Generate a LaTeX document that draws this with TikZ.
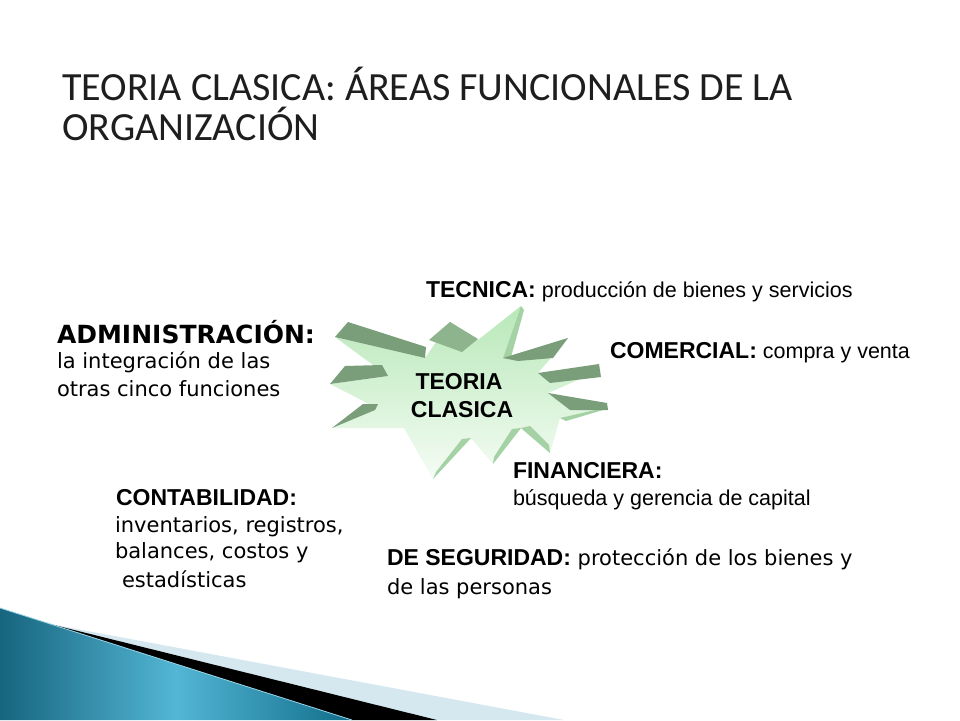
\documentclass[tikz,border=0pt]{standalone}
\usepackage{fontspec}
\setmainfont{Liberation Sans}
\newfontfamily\titlefont{Carlito}
\newfontfamily\verdfont{DejaVu Sans}
\definecolor{darkg}{HTML}{7A9E7A}
\definecolor{darkg2}{HTML}{8DB48D}
\definecolor{medg}{HTML}{A4D2A4}
\definecolor{frontTop}{HTML}{B8E8B8}
\definecolor{frontBot}{HTML}{F5FCF5}
\definecolor{tealA}{HTML}{17657F}
\definecolor{tealB}{HTML}{53B6D4}
\definecolor{tealC}{HTML}{116E8A}
\definecolor{paleblue}{HTML}{D5E8F0}
\definecolor{titlegray}{HTML}{1E1E1E}
\newcommand{\lblB}[1]{{\fontsize{23}{27}\selectfont\bfseries #1}}
\newcommand{\txtA}[1]{{\fontsize{21.5}{25}\selectfont #1}}
\newcommand{\txtV}[1]{{\verdfont\fontsize{21}{25}\selectfont #1}}
\begin{document}
\begin{tikzpicture}[x=1pt,y=-1pt,
  txt/.style={inner sep=0pt, outer sep=0pt, anchor=base west, text=black},
  titletxt/.style={inner sep=0pt, anchor=base west, text=titlegray, font=\titlefont\fontsize{40}{48}\selectfont},
  startxt/.style={inner sep=0pt, anchor=base, font=\fontsize{23}{27}\selectfont\bfseries},
  slab/.style={fill=darkg},
  side/.style={fill=medg}]
\useasboundingbox[fill=white] (0,0) rectangle (960,720);

% bottom-left decoration
\fill[paleblue] (50,624) -- (564,720) -- (437,720) -- cycle;
\fill[black] (50,624) -- (437,720) -- (352,720) -- cycle;
\shade[left color=tealA, right color=tealC, middle color=tealB] (0,608) -- (352,720) -- (0,720) -- cycle;
\draw[tealB!60!white, line width=0.8pt] (0,608) -- (352,720);

% star: front face (silhouette)
\shade[top color=frontTop, bottom color=frontBot]
  (521,306) -- (503,358) -- (568,338) -- (538,373) -- (601,370) -- (548,393)
  -- (608,407) -- (560,418) -- (550,453) -- (521,428) -- (493,464) -- (471,438)
  -- (433,479) -- (404,428) -- (332,428) -- (375,407) -- (330,384) -- (388,376)
  -- (335,337) -- (425,358) -- (450,322) -- (478,340) -- cycle;
% side faces
\path[side] (521,306) -- (503,358) -- (511,357) -- (524,310) -- cycle;
\path[side] (433,479) -- (471,438) -- (462,439) -- (436,472) -- cycle;
\path[side] (493,464) -- (521,428) -- (512,429) -- (494,457) -- cycle;
\path[side] (550,453) -- (521,428) -- (530,426) -- (549,445) -- cycle;
\path[side] (608,407) -- (560,418) -- (566,421) -- (603,410) -- cycle;
% dark slabs
\path[slab] (335,337) -- (348,322) -- (426,347) -- (425,358) -- cycle;
\path[slab] (330,384) -- (345,366) -- (382,365) -- (388,376) -- cycle;
\path[slab] (332,428) -- (363,404) -- (378,404) -- (375,410) -- cycle;
\path[fill=darkg2] (429,340) -- (450,322) -- (478,339) -- (462,352) -- cycle;
\path[slab] (503,358) -- (568,338) -- (553,358) -- (518,361) -- cycle;
\path[slab] (538,373) -- (599,364) -- (601,377) -- (550,383) -- cycle;
\path[slab] (548,393) -- (607,403) -- (608,410) -- (570,410) -- cycle;

% title
\node[titletxt] (title1) at (62,100) {TEORIA CLASICA: ÁREAS FUNCIONALES DE LA};
\node[titletxt] (title2) at (62,140) {ORGANIZACIÓN};

% star text
\node[startxt] (starT1) at (459,389) {TEORIA};
\node[startxt] (starT2) at (462,417) {CLASICA};

% labels
\node[txt] (tec) at (426,297) {\lblB{TECNICA:}\txtA{ producción de bienes y servicios}};
\node[txt] (adm1) at (57,343) {{\verdfont\bfseries\fontsize{25}{29}\selectfont ADMINISTRACIÓN:}};
\node[txt] (adm2) at (57,368) {\txtV{la integración de las}};
\node[txt] (adm3) at (57,396) {\txtV{otras cinco funciones}};
\node[txt] (com) at (610,358) {\lblB{COMERCIAL:}\txtA{ compra y venta}};
\node[txt] (fin1) at (513,478) {\lblB{FINANCIERA:}};
\node[txt] (fin2) at (513,505) {\txtA{búsqueda y gerencia de capital}};
\node[txt] (con1) at (116,505) {\lblB{CONTABILIDAD:}};
\node[txt] (con2) at (115,532) {\txtV{inventarios, registros,}};
\node[txt] (con3) at (115,558) {\txtV{balances, costos y}};
\node[txt] (con4) at (122,587) {\txtV{estadísticas}};
\node[txt] (seg1) at (387,565) {\lblB{DE SEGURIDAD:}\txtV{ protección de los bienes y}};
\node[txt] (seg2) at (387,594) {\txtV{de las personas}};
\end{tikzpicture}
\end{document}
